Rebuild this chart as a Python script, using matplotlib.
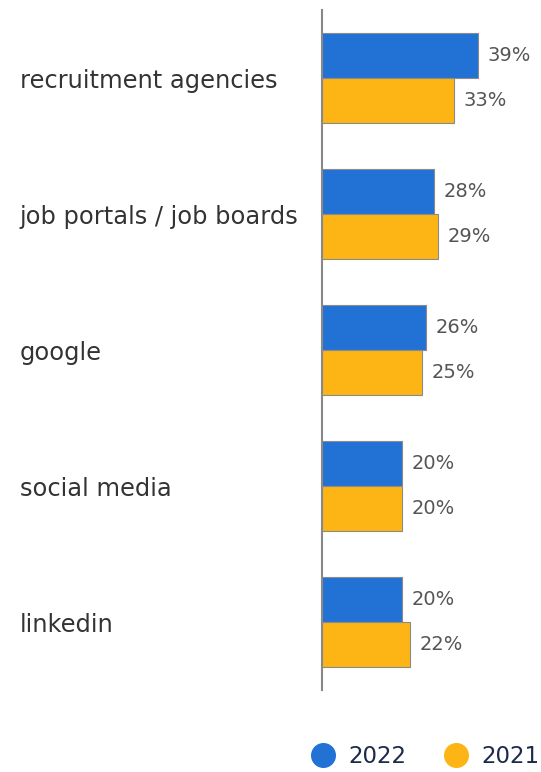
import matplotlib.pyplot as plt
import numpy as np
from matplotlib.lines import Line2D

categories = ['recruitment agencies', 'job portals / job boards', 'google',
              'social media', 'linkedin']
vals_2022 = [39, 28, 26, 20, 20]
vals_2021 = [33, 29, 25, 20, 22]

blue = '#2272d6'
yellow = '#fdb515'

fig = plt.figure(figsize=(5.41, 7.72), dpi=100)
ax = fig.add_axes([0.595, 0.106, 0.37, 0.881])

y = np.arange(len(categories))
h = 0.33
ax.barh(y - h / 2, vals_2022, height=h, color=blue, edgecolor='#8a8a8a', linewidth=0.8)
ax.barh(y + h / 2, vals_2021, height=h, color=yellow, edgecolor='#8a8a8a', linewidth=0.8)

for i in range(len(categories)):
    ax.text(vals_2022[i] + 2.4, y[i] - h / 2, f'{vals_2022[i]}%', va='center', ha='left',
            fontsize=14, color='#555555')
    ax.text(vals_2021[i] + 2.4, y[i] + h / 2, f'{vals_2021[i]}%', va='center', ha='left',
            fontsize=14, color='#555555')

ax.set_xlim(0, 50)
ax.set_ylim(4.5, -0.5)
ax.set_yticks(y)
ax.set_yticklabels(categories, fontsize=17.4, color='#333333')
for lab in ax.get_yticklabels():
    lab.set_horizontalalignment('left')
# pad is in points: 302 px at 100 dpi
ax.tick_params(axis='y', length=0, pad=302 * 72 / 100)
ax.set_xticks([])
for s in ['top', 'right', 'bottom']:
    ax.spines[s].set_visible(False)
ax.spines['left'].set_color('#888888')
ax.spines['left'].set_linewidth(1.5)

handles = [Line2D([], [], marker='o', linestyle='', markersize=17, color=blue),
           Line2D([], [], marker='o', linestyle='', markersize=17, color=yellow)]
fig.legend(handles, ['2022', '2021'], loc='center', bbox_to_anchor=(0.776, 0.02),
           ncol=2, frameon=False, fontsize=16.5, labelcolor='#1c2a4a',
           handletextpad=0.1, columnspacing=1.2)

fig.savefig('out.png', dpi=100)
